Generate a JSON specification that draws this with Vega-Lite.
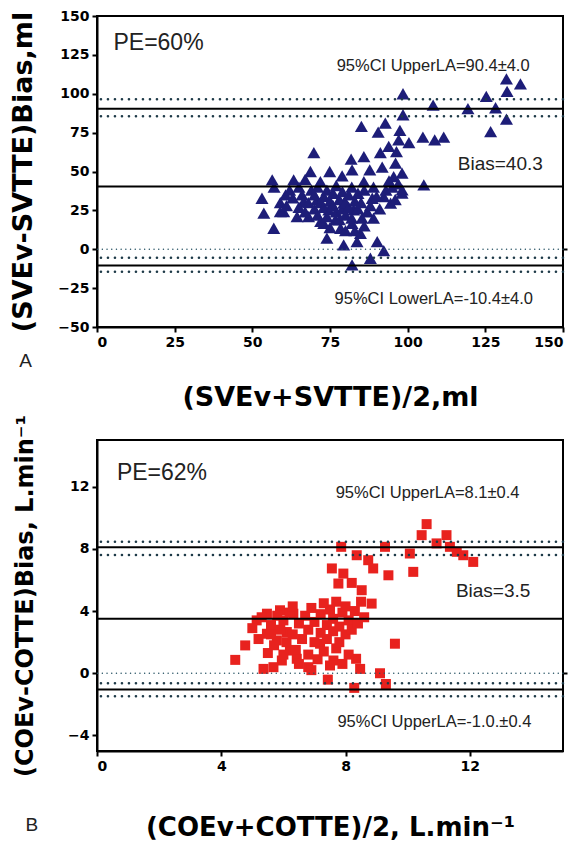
{
  "$schema": "https://vega.github.io/schema/vega-lite/v6.json",
  "padding": {"left": 8, "top": 8, "right": 5, "bottom": 5},
  "background": "white",
  "bounds": "flush",
  "spacing": 113,
  "config": {
    "view": {"stroke": "black", "strokeWidth": 2},
    "axis": {"domainColor": "black", "domainWidth": 2, "tickColor": "black", "tickWidth": 2, "tickSize": 5, "labelFont": "DejaVu Sans", "labelFontWeight": "bold", "labelFontSize": 14, "labelColor": "black", "labelPadding": 3, "titleFont": "DejaVu Sans", "titleFontWeight": "bold", "titleColor": "black", "grid": false}
  },
  "vconcat": [
    {
      "width": 466, "height": 311,
      "resolve": {"axis": {"y": "independent"}},
      "layer": [
        {
          "data": {"values": [
            {"x":131.8,"y":109.5},{"x":136.3,"y":106.4},{"x":132,"y":101.5},{"x":125.3,"y":98.3},{"x":98.5,"y":100},{"x":108.2,"y":92.7},{"x":119.4,"y":90.5},{"x":128.3,"y":91},{"x":98.5,"y":86.5},{"x":131.8,"y":83.7},{"x":126.7,"y":75.7},{"x":85.1,"y":79},{"x":92.8,"y":81.1},{"x":90.5,"y":75.3},{"x":97.5,"y":76.4},{"x":104.9,"y":72.1},{"x":108.7,"y":70.4},{"x":111.6,"y":72.1},{"x":100.4,"y":68.6},{"x":97.1,"y":70.4},{"x":93.9,"y":66.1},{"x":91.2,"y":62.2},{"x":96.4,"y":62.8},{"x":69.8,"y":62.2},{"x":81.8,"y":58},{"x":85.9,"y":59.6},{"x":87.8,"y":51},{"x":91.8,"y":52.8},{"x":96.1,"y":55.4},{"x":98.2,"y":48.9},{"x":95.5,"y":46.7},{"x":82.1,"y":51},{"x":78.9,"y":47.2},{"x":74.9,"y":50},{"x":68.7,"y":50},{"x":63.3,"y":44.6},{"x":105.2,"y":41.4},{"x":98.2,"y":38.2},{"x":85.9,"y":43.5},{"x":71.9,"y":43.5},{"x":56.4,"y":44.6},
            {"x":60.1,"y":24.2},{"x":64.4,"y":21},{"x":68.1,"y":21},{"x":73,"y":16.7},{"x":74,"y":7.1},{"x":79.4,"y":2.8},{"x":82.1,"y":-10.1},{"x":88,"y":-5.8},{"x":90.2,"y":4.9},{"x":92.3,"y":-0.9},{"x":83.7,"y":4.9},{"x":84.8,"y":10.3},{"x":82.1,"y":16.7},{"x":78.4,"y":13.5},{"x":76.7,"y":18.9},{"x":85.3,"y":20},{"x":88.6,"y":32.8},{"x":92.3,"y":33.9},{"x":94.5,"y":29.6},{"x":98.2,"y":36.1},{"x":70.8,"y":31.7},{"x":66.5,"y":30.6},{"x":74.6,"y":25.3},{"x":79.4,"y":29.6},{"x":82.6,"y":25.3},{"x":53.1,"y":32.8},{"x":56.9,"y":13.5},{"x":53.7,"y":23.2},{"x":59,"y":24.2},{"x":60.7,"y":35},
            {"x":57,"y":40},{"x":59,"y":30},{"x":61,"y":28},{"x":62,"y":38},{"x":63,"y":33},{"x":65,"y":27},{"x":65,"y":40},{"x":66,"y":35},{"x":67,"y":24},{"x":67,"y":45},{"x":68,"y":30},{"x":69,"y":38},{"x":70,"y":26},{"x":70,"y":35},{"x":71,"y":22},{"x":71,"y":40},{"x":72,"y":30},{"x":72,"y":18},{"x":73,"y":34},{"x":73,"y":27},{"x":74,"y":38},{"x":74,"y":21},{"x":75,"y":31},{"x":75,"y":14},{"x":76,"y":28},{"x":76,"y":36},{"x":77,"y":24},{"x":77,"y":41},{"x":78,"y":32},{"x":78,"y":19},{"x":79,"y":26},{"x":79,"y":37},{"x":80,"y":22},{"x":80,"y":30},{"x":80,"y":12},{"x":81,"y":35},{"x":81,"y":27},{"x":82,"y":40},{"x":82,"y":20},{"x":83,"y":31},{"x":83,"y":12},{"x":84,"y":36},{"x":84,"y":26},{"x":85,"y":30},{"x":86,"y":15},{"x":86,"y":38},{"x":87,"y":24},{"x":88,"y":28},{"x":89,"y":40},{"x":89,"y":20},{"x":90,"y":34},{"x":91,"y":26},{"x":93,"y":38},{"x":94,"y":44},{"x":95,"y":40},{"x":96,"y":32},{"x":97,"y":42}
          ]},
          "mark": {"type": "point", "shape": "triangle-up", "filled": true, "size": 170, "color": "#1d1d78", "opacity": 1},
          "encoding": {
            "x": {"field": "x", "type": "quantitative", "scale": {"domain": [0, 150], "nice": false, "zero": false}, "axis": {"values": [0, 25, 50, 75, 100, 125, 150], "title": "(SVEv+SVTTE)/2,ml", "titleFontSize": 27, "titlePadding": 35}},
            "y": {"field": "y", "type": "quantitative", "scale": {"domain": [-50, 150], "nice": false, "zero": false}, "axis": {"values": [-50, -25, 0, 25, 50, 75, 100, 125, 150], "title": "(SVEv-SVTTE)Bias,ml", "titleFontSize": 27, "titlePadding": 20}}
          }
        },
        {
          "data": {"values": [{"y": 90.4}, {"y": 40.3}, {"y": -10.4}]},
          "mark": {"type": "rule", "color": "black", "strokeWidth": 2},
          "encoding": {"y": {"field": "y", "type": "quantitative", "axis": null}}
        },
        {
          "data": {"values": [{"y": 96.5}, {"y": 85.5}, {"y": -5.5}, {"y": -14.5}]},
          "mark": {"type": "rule", "color": "#1e3a48", "strokeWidth": 2.5, "strokeCap": "round", "strokeDash": [0.1, 6.9]},
          "encoding": {"y": {"field": "y", "type": "quantitative", "axis": null}}
        },
        {
          "data": {"values": [{"y": 0}]},
          "mark": {"type": "rule", "color": "#2a5566", "strokeWidth": 1.4, "strokeCap": "round", "strokeDash": [0.1, 4.6]},
          "encoding": {"y": {"field": "y", "type": "quantitative", "axis": {"orient": "right", "values": [0], "labels": false, "domain": false, "title": null, "tickSize": 4}}}
        },
        {
          "data": {"values": [{"x": 5.3, "y": 128, "t": "PE=60%"}]},
          "mark": {"type": "text", "font": "Liberation Sans", "fontSize": 23, "align": "left", "baseline": "alphabetic", "color": "#222222"},
          "encoding": {"x": {"field": "x", "type": "quantitative", "axis": {"values": [0, 25, 50, 75, 100, 125, 150], "title": "(SVEv+SVTTE)/2,ml", "titleFontSize": 27, "titlePadding": 35}}, "y": {"field": "y", "type": "quantitative", "axis": null}, "text": {"field": "t"}}
        },
        {
          "data": {"values": [{"x": 108.2, "y": 114.8, "t": "95%CI UpperLA=90.4±4.0"}, {"x": 108.4, "y": -35.4, "t": "95%CI LowerLA=-10.4±4.0"}]},
          "mark": {"type": "text", "font": "Liberation Sans", "fontSize": 16.5, "align": "center", "baseline": "alphabetic", "color": "#222222"},
          "encoding": {"x": {"field": "x", "type": "quantitative", "axis": {"values": [0, 25, 50, 75, 100, 125, 150], "title": "(SVEv+SVTTE)/2,ml", "titleFontSize": 27, "titlePadding": 35}}, "y": {"field": "y", "type": "quantitative", "axis": null}, "text": {"field": "t"}}
        },
        {
          "data": {"values": [{"x": 143.5, "y": 50.8, "t": "Bias=40.3"}]},
          "mark": {"type": "text", "font": "Liberation Sans", "fontSize": 19, "align": "right", "baseline": "alphabetic", "color": "#222222"},
          "encoding": {"x": {"field": "x", "type": "quantitative", "axis": {"values": [0, 25, 50, 75, 100, 125, 150], "title": "(SVEv+SVTTE)/2,ml", "titleFontSize": 27, "titlePadding": 35}}, "y": {"field": "y", "type": "quantitative", "axis": null}, "text": {"field": "t"}}
        },
        {
          "data": {"values": [{"x": -25, "y": -76, "t": "A"}]},
          "mark": {"type": "text", "font": "Liberation Sans", "fontSize": 19, "align": "left", "baseline": "alphabetic", "color": "#222222"},
          "encoding": {"x": {"field": "x", "type": "quantitative", "axis": {"values": [0, 25, 50, 75, 100, 125, 150], "title": "(SVEv+SVTTE)/2,ml", "titleFontSize": 27, "titlePadding": 35}}, "y": {"field": "y", "type": "quantitative", "axis": null}, "text": {"field": "t"}}
        }
      ]
    },
    {
      "width": 466, "height": 311,
      "resolve": {"axis": {"y": "independent"}},
      "layer": [
        {
          "data": {"values": [
            {"x":10.61,"y":9.59},{"x":10.45,"y":8.88},{"x":11.25,"y":8.88},{"x":10.93,"y":8.35},{"x":11.36,"y":8.13},{"x":11.58,"y":7.81},{"x":11.79,"y":7.59},{"x":12.11,"y":7.16},{"x":7.86,"y":8.13},{"x":9.27,"y":8.13},{"x":10.07,"y":7.7},{"x":8.36,"y":7.59},{"x":8.73,"y":7.27},{"x":8.89,"y":6.74},{"x":7.56,"y":6.74},{"x":7.93,"y":6.41},{"x":9.38,"y":6.3},{"x":10.18,"y":6.52},{"x":7.77,"y":5.77},{"x":8.2,"y":5.81},{"x":8.52,"y":5.34},{"x":8.84,"y":4.48},
            {"x":9.59,"y":1.9},{"x":8.34,"y":0.93},{"x":8.47,"y":0.28},{"x":9.11,"y":0},{"x":9.3,"y":-0.69},{"x":7.43,"y":-0.41},{"x":8.28,"y":-0.94},{"x":6.8,"y":0.39},{"x":7.61,"y":0.82},{"x":7.18,"y":1.9},{"x":4.45,"y":0.86},{"x":4.77,"y":1.79},{"x":5.36,"y":0.28},{"x":5.14,"y":3.4},{"x":5.47,"y":3.83},{"x":5.89,"y":4.05},{"x":6.32,"y":3.83},{"x":5.47,"y":2.54},{"x":5.79,"y":2.11},{"x":6.11,"y":2.65},{"x":6.21,"y":1.46},{"x":5.95,"y":0.82},{"x":5.68,"y":0.39},{"x":6.43,"y":0.93},
            {"x":5.0,"y":2.9},{"x":5.2,"y":2.2},{"x":5.3,"y":3.6},{"x":5.5,"y":1.3},{"x":5.6,"y":3.1},{"x":5.7,"y":1.8},{"x":5.8,"y":3.7},{"x":5.9,"y":2.8},{"x":6.0,"y":1.2},{"x":6.0,"y":3.4},{"x":6.1,"y":2.0},{"x":6.2,"y":3.9},{"x":6.3,"y":2.5},{"x":6.4,"y":1.5},{"x":6.5,"y":3.2},{"x":6.5,"y":0.6},{"x":6.6,"y":2.2},{"x":6.7,"y":3.7},{"x":6.8,"y":2.8},{"x":6.8,"y":1.2},{"x":6.9,"y":4.2},{"x":7.0,"y":3.3},{"x":7.0,"y":2.0},{"x":7.1,"y":0.9},{"x":7.2,"y":3.8},{"x":7.2,"y":2.6},{"x":7.3,"y":4.5},{"x":7.3,"y":1.4},{"x":7.4,"y":3.1},{"x":7.4,"y":2.2},{"x":7.5,"y":4.1},{"x":7.5,"y":0.5},{"x":7.6,"y":3.5},{"x":7.6,"y":2.7},{"x":7.7,"y":1.6},{"x":7.7,"y":4.6},{"x":7.8,"y":3.0},{"x":7.8,"y":2.0},{"x":7.9,"y":3.9},{"x":8.0,"y":2.5},{"x":8.0,"y":4.3},{"x":8.1,"y":1.2},{"x":8.1,"y":3.4},{"x":8.2,"y":2.8},{"x":8.3,"y":4.0},{"x":8.4,"y":3.2},{"x":8.5,"y":4.6},{"x":8.6,"y":3.6},{"x":6.3,"y":4.3},{"x":5.6,"y":2.5},{"x":6.9,"y":0.2},{"x":7.9,"y":0.6}
          ]},
          "mark": {"type": "square", "filled": true, "size": 100, "color": "#e8221e", "opacity": 1},
          "encoding": {
            "x": {"field": "x", "type": "quantitative", "scale": {"domain": [0, 15], "nice": false, "zero": false}, "axis": {"values": [0, 4, 8, 12], "title": "(COEv+COTTE)/2, L.min⁻¹", "titleFontSize": 26, "titlePadding": 41}},
            "y": {"field": "y", "type": "quantitative", "scale": {"domain": [-5, 15], "nice": false, "zero": false}, "axis": {"values": [-4, 0, 4, 8, 12], "title": "(COEv-COTTE)Bias, L.min⁻¹", "titleFontSize": 24, "titlePadding": 30}}
          }
        },
        {
          "data": {"values": [{"y": 8.1}, {"y": 3.5}, {"y": -1.05}]},
          "mark": {"type": "rule", "color": "black", "strokeWidth": 2},
          "encoding": {"y": {"field": "y", "type": "quantitative", "axis": null}}
        },
        {
          "data": {"values": [{"y": 8.45}, {"y": 7.6}, {"y": -0.65}, {"y": -1.48}]},
          "mark": {"type": "rule", "color": "#1e3a48", "strokeWidth": 2.5, "strokeCap": "round", "strokeDash": [0.1, 6.9]},
          "encoding": {"y": {"field": "y", "type": "quantitative", "axis": null}}
        },
        {
          "data": {"values": [{"y": 0}]},
          "mark": {"type": "rule", "color": "#2a5566", "strokeWidth": 1.4, "strokeCap": "round", "strokeDash": [0.1, 4.6]},
          "encoding": {"y": {"field": "y", "type": "quantitative", "axis": {"orient": "right", "values": [0], "labels": false, "domain": false, "title": null, "tickSize": 4}}}
        },
        {
          "data": {"values": [{"x": 0.64, "y": 12.43, "t": "PE=62%"}]},
          "mark": {"type": "text", "font": "Liberation Sans", "fontSize": 23, "align": "left", "baseline": "alphabetic", "color": "#222222"},
          "encoding": {"x": {"field": "x", "type": "quantitative", "axis": {"values": [0, 4, 8, 12], "title": "(COEv+COTTE)/2, L.min⁻¹", "titleFontSize": 26, "titlePadding": 41}}, "y": {"field": "y", "type": "quantitative", "axis": null}, "text": {"field": "t"}}
        },
        {
          "data": {"values": [{"x": 10.64, "y": 11.25, "t": "95%CI UpperLA=8.1±0.4"}, {"x": 10.86, "y": -3.48, "t": "95%CI UpperLA=-1.0.±0.4"}]},
          "mark": {"type": "text", "font": "Liberation Sans", "fontSize": 16.5, "align": "center", "baseline": "alphabetic", "color": "#222222"},
          "encoding": {"x": {"field": "x", "type": "quantitative", "axis": {"values": [0, 4, 8, 12], "title": "(COEv+COTTE)/2, L.min⁻¹", "titleFontSize": 26, "titlePadding": 41}}, "y": {"field": "y", "type": "quantitative", "axis": null}, "text": {"field": "t"}}
        },
        {
          "data": {"values": [{"x": 13.95, "y": 4.9, "t": "Bias=3.5"}]},
          "mark": {"type": "text", "font": "Liberation Sans", "fontSize": 19, "align": "right", "baseline": "alphabetic", "color": "#222222"},
          "encoding": {"x": {"field": "x", "type": "quantitative", "axis": {"values": [0, 4, 8, 12], "title": "(COEv+COTTE)/2, L.min⁻¹", "titleFontSize": 26, "titlePadding": 41}}, "y": {"field": "y", "type": "quantitative", "axis": null}, "text": {"field": "t"}}
        },
        {
          "data": {"values": [{"x": -2.3, "y": -10.15, "t": "B"}]},
          "mark": {"type": "text", "font": "Liberation Sans", "fontSize": 19, "align": "left", "baseline": "alphabetic", "color": "#222222"},
          "encoding": {"x": {"field": "x", "type": "quantitative", "axis": {"values": [0, 4, 8, 12], "title": "(COEv+COTTE)/2, L.min⁻¹", "titleFontSize": 26, "titlePadding": 41}}, "y": {"field": "y", "type": "quantitative", "axis": null}, "text": {"field": "t"}}
        }
      ]
    }
  ]
}
